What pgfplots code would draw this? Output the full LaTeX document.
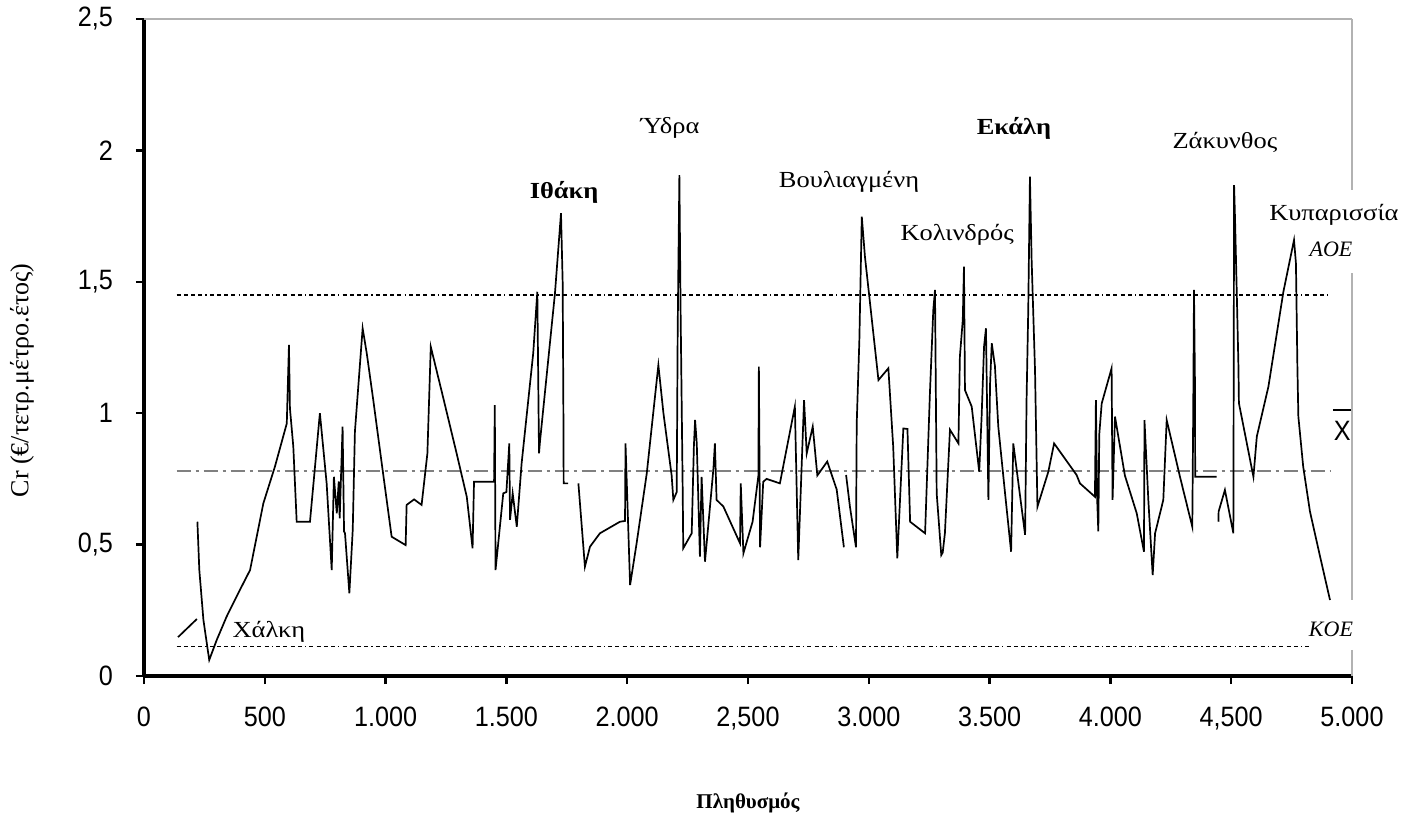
\documentclass[border=0pt]{standalone}
\usepackage{fontspec}
\usepackage{pgfplots}
\pgfplotsset{compat=1.18}
\setmainfont{Liberation Serif}
\newfontfamily\labfont[FakeStretch=1.15]{Liberation Serif}
\newfontfamily\tickfont[FakeStretch=0.9]{Liberation Sans}

\pgfplotsset{
  cline/.style={black, line width=0.85pt},
  refline/.style={black, line width=0.7pt,
    dash pattern=on 2pt off 1.6pt on 2pt off 1.6pt on 2pt off 1.6pt on 2pt off 1.6pt on 0.6pt off 1.6pt},
  meanline/.style={gray, line width=0.6pt, dash pattern=on 7pt off 2.5pt on 1.5pt off 2.5pt},
}

\begin{document}
\begin{tikzpicture}
\path[use as bounding box] (-72pt,-69.5pt) rectangle (630pt,338pt);
\begin{axis}[
  at={(0,0)}, anchor=south west,
  scale only axis, width=604pt, height=328.5pt,
  xmin=0, xmax=5000, ymin=0, ymax=2.5,
  clip=false,
  axis x line*=bottom, axis y line*=left,
  axis line style={line width=1.8pt},
  tick align=outside, major tick length=4pt,
  every tick/.style={black, line width=1.2pt},
  xtick={0,500,...,5000},
  xticklabels={0,500,1.000,1.500,2.000,{2,500},3.000,3.500,4.000,{4,500},5.000},
  ytick={0,0.5,1,1.5,2,2.5},
  yticklabels={0,{0,5},1,{1,5},2,{2,5}},
  tick label style={font=\tickfont\fontsize{14}{14}\selectfont},
  xticklabel style={yshift=-8pt},
  yticklabel style={xshift=-8pt},
  ylabel={Cr (€/τετρ.μέτρο.έτος)},
  ylabel style={font=\fontsize{13}{14}\selectfont, at={(axis description cs:-0.101,0.45)}, anchor=center},
  xlabel={Πληθυσμός},
  xlabel style={font=\bfseries\fontsize{10.5}{12}\selectfont, at={(axis description cs:0.5,-0.201)}, anchor=base},
]
% frame on top and right
\draw[gray!60, line width=0.9pt] (axis cs:0,2.5) -- (axis cs:5000,2.5);
\draw[gray!60, line width=0.8pt] (axis cs:5000,2.5) -- (axis cs:5000,1.849);
\draw[gray!60, line width=0.8pt] (axis cs:5000,1.533) -- (axis cs:5000,0.289);
\draw[gray!60, line width=0.8pt] (axis cs:5000,0.099) -- (axis cs:5000,0);

% reference lines
\addplot[refline] coordinates {(135,1.45)(4897,1.45)};
\addplot[meanline] coordinates {(135,0.78)(4909,0.78)};
\addplot[refline] coordinates {(135,0.113)(4826,0.113)};

% cost per population
\addplot[cline] coordinates {(141,0.148)(219,0.217)};
\addplot[cline] coordinates {
(221,0.587)(229,0.403)(246,0.213)(270,0.061)(301,0.137)(342,0.226)(390,0.315)
(439,0.403)(494,0.657)(542,0.797)(591,0.961)(600,1.26)(604,1.019)(618,0.873)
(632,0.587)(687,0.587)(728,1.0)(756,0.733)(777,0.403)(786,0.758)(798,0.619)
(806,0.74)(810,0.60)(822,0.949)(828,0.55)(832,0.543)(850,0.315)(864,0.556)
(873,0.930)(905,1.323)(922,1.228)(949,1.050)(984,0.809)(1025,0.530)(1083,0.498)
(1087,0.651)(1118,0.672)(1149,0.651)(1173,0.847)(1187,1.253)(1239,1.057)
(1294,0.847)(1336,0.682)(1360,0.486)(1366,0.739)(1449,0.739)(1452,1.031)
(1455,0.403)(1487,0.695)(1500,0.70)(1512,0.885)(1515,0.594)(1526,0.695)
(1543,0.568)(1563,0.809)(1611,1.228)(1628,1.462)(1635,0.847)(1639,0.892)
(1701,1.456)(1726,1.761)(1733,1.494)(1736,0.987)(1737,0.733)(1756,0.733)
};
\addplot[cline] coordinates {
(1798,0.733)(1825,0.416)(1846,0.492)(1887,0.543)(1970,0.587)(1991,0.59)
(1993,0.885)(2012,0.346)(2039,0.505)(2081,0.771)(2129,1.183)(2150,1.0)
(2184,0.763)(2191,0.670)(2205,0.70)(2209,1.317)(2216,1.906)(2221,1.393)
(2230,0.682)(2232,0.486)(2267,0.543)(2276,0.873)(2281,0.974)(2288,0.885)
(2301,0.454)(2308,0.758)(2322,0.435)(2357,0.79)(2363,0.885)(2370,0.670)
(2398,0.645)(2467,0.505)(2470,0.733)(2481,0.467)(2519,0.587)(2543,0.762)
(2545,1.177)(2550,0.49)(2563,0.739)(2577,0.75)(2632,0.733)(2694,1.025)
(2708,0.441)(2732,1.050)(2743,0.847)(2768,0.949)(2787,0.763)(2828,0.816)
(2867,0.710)(2897,0.49)
};
\addplot[cline] coordinates {
(2906,0.765)(2922,0.644)(2947,0.49)(2950,0.961)(2961,1.279)(2971,1.748)
(2984,1.596)(3040,1.126)(3081,1.171)(3101,0.873)(3118,0.448)(3143,0.942)
(3160,0.94)(3171,0.587)(3233,0.543)(3253,1.076)(3267,1.393)(3274,1.469)
(3281,0.695)(3300,0.46)(3306,0.47)(3315,0.543)(3336,0.937)(3371,0.885)
(3377,1.215)(3389,1.355)(3394,1.558)(3398,1.088)(3426,1.025)(3457,0.777)
(3467,0.987)(3477,1.253)(3485,1.323)(3495,0.670)(3502,1.114)(3509,1.266)
(3522,1.18)(3536,0.949)(3564,0.695)(3589,0.473)(3598,0.885)(3647,0.537)
(3653,1.05)(3660,1.393)(3667,1.900)(3674,1.583)(3688,1.164)(3698,0.644)
(3743,0.777)(3767,0.885)(3860,0.765)(3874,0.733)(3936,0.682)(3940,1.05)
(3945,0.68)(3950,0.55)(3954,0.92)(3964,1.037)(4005,1.171)(4009,0.670)
(4019,0.987)(4060,0.763)(4109,0.619)(4139,0.473)(4141,0.974)(4157,0.670)
(4175,0.384)(4185,0.543)(4219,0.670)(4233,0.974)(4288,0.758)(4339,0.568)
(4343,1.025)(4346,1.469)(4350,1.117)(4351,0.758)(4440,0.758)
};
\addplot[cline] coordinates {
(4447,0.587)(4448,0.626)(4474,0.708)(4509,0.543)(4512,1.868)(4516,1.735)
(4523,1.462)(4530,1.177)(4532,1.038)(4592,0.758)(4606,0.911)(4654,1.101)
(4716,1.462)(4760,1.659)(4768,1.570)(4774,1.177)(4778,0.987)(4798,0.797)
(4826,0.626)(4868,0.454)(4909,0.289)
};

% place names
\begin{scope}[every node/.style={font=\labfont\fontsize{11.5}{13}\selectfont, anchor=base, inner sep=0pt}]
\node at (axis cs:517,0.147) {Χάλκη};
\node[font=\labfont\bfseries\fontsize{11.5}{13}\selectfont] at (axis cs:1739,1.818) {Ιθάκη};
\node at (axis cs:2177,2.066) {Ύδρα};
\node at (axis cs:2918,1.857) {Βουλιαγμένη};
\node at (axis cs:3366,1.659) {Κολινδρός};
\node[font=\labfont\bfseries\fontsize{11.5}{13}\selectfont] at (axis cs:3601,2.059) {Εκάλη};
\node at (axis cs:4474,2.009) {Ζάκυνθος};
\node at (axis cs:4925,1.735) {Κυπαρισσία};
\node[font=\itshape\fontsize{11}{13}\selectfont] at (axis cs:4913,1.596) {AOE};
\node[font=\itshape\fontsize{11}{13}\selectfont] at (axis cs:4913,0.150) {KOE};
\node[font=\tickfont\fontsize{14}{14}\selectfont] at (axis cs:4960,0.898) {X};
\end{scope}
\draw[black, line width=0.7pt] (axis cs:4921,1.012) -- (axis cs:4996,1.012);
\end{axis}
\end{tikzpicture}
\end{document}
